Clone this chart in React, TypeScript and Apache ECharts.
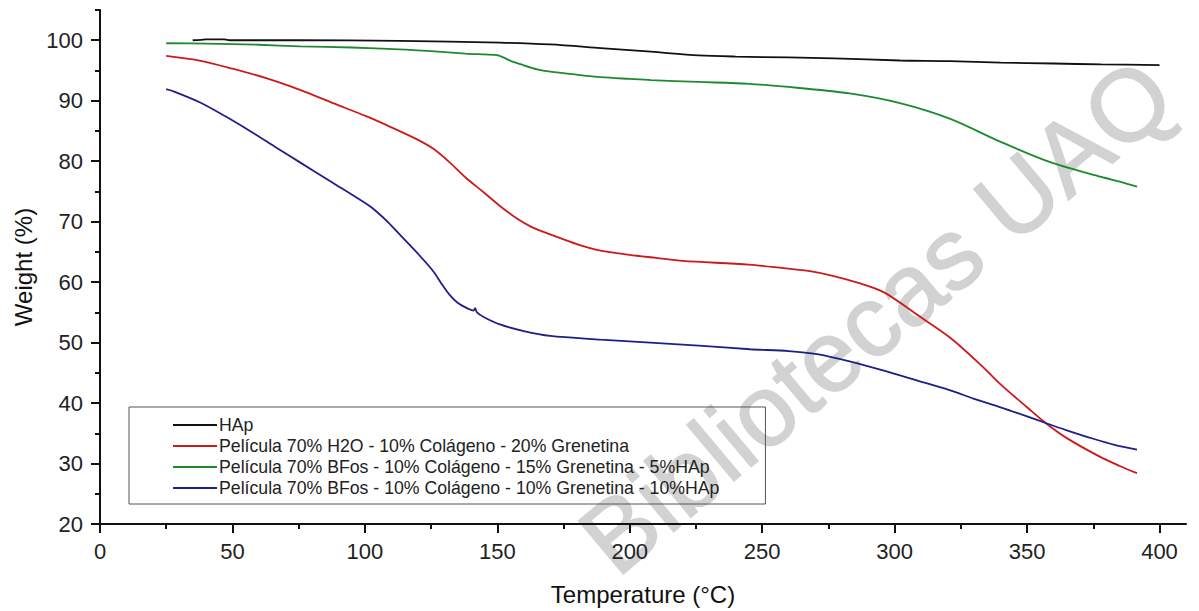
import React, { useEffect, useRef } from "react";
import * as echarts from "echarts";

const hapX = [35, 38, 40, 47, 49, 75.5, 113, 151, 170, 189, 208, 226, 240, 260, 277, 302, 321, 340, 360, 378, 400];
const hapY = [100.0, 100.05, 100.15, 100.15, 100.0, 100.0, 99.9, 99.6, 99.3, 98.7, 98.1, 97.5, 97.3, 97.15, 97.0, 96.65, 96.55, 96.3, 96.15, 96.0, 95.9];

const h2oX = [25, 38, 50, 63, 75.5, 88, 100.7, 110, 119.7, 126, 132, 138, 144.7, 151, 157.4, 163, 170, 180, 189, 200, 210, 220, 245, 258, 268, 277, 286, 296, 308.5, 321, 333.5, 340, 350, 357, 365, 377.6, 385, 391.5];
const h2oY = [97.4, 96.6, 95.3, 93.7, 91.8, 89.6, 87.4, 85.6, 83.6, 82.0, 79.8, 77.3, 74.9, 72.6, 70.5, 69.1, 67.9, 66.3, 65.2, 64.5, 64.0, 63.5, 62.9, 62.3, 61.8, 61.0, 59.9, 58.3, 54.6, 50.8, 45.9, 43.1, 39.3, 36.7, 34.2, 31.1, 29.6, 28.4];

const hap5X = [25, 40, 60, 75.5, 95, 113, 125, 138, 145, 150, 152, 155, 159, 165, 170, 180, 189, 200, 208, 226, 245, 264, 283, 302, 321, 340, 359, 378, 385, 391.5];
const hap5Y = [99.5, 99.45, 99.25, 99.0, 98.8, 98.5, 98.2, 97.8, 97.65, 97.55, 97.2, 96.6, 96.0, 95.2, 94.8, 94.3, 93.9, 93.6, 93.4, 93.1, 92.8, 92.1, 91.2, 89.6, 87.0, 83.2, 79.8, 77.4, 76.6, 75.8];

const hap10X = [25, 28, 37.8, 47, 56.6, 66, 75.5, 88, 100.7, 104.6, 109, 113.3, 120, 125.8, 129, 132, 135, 138.5, 141, 141.6, 142.3, 145, 151, 160, 170, 189, 207.7, 226, 245.4, 260, 270.7, 283, 295.6, 308, 321, 330, 340, 350, 357, 365, 375, 383, 391.5];
const hap10Y = [91.9, 91.5, 89.7, 87.5, 85.0, 82.4, 79.8, 76.4, 72.9, 71.6, 69.8, 67.8, 64.7, 61.8, 59.7, 57.9, 56.6, 55.7, 55.3, 55.7, 55.0, 54.2, 53.0, 51.9, 51.1, 50.5, 50.0, 49.5, 48.9, 48.6, 48.1, 46.9, 45.4, 43.8, 42.1, 40.7, 39.3, 37.8, 36.7, 35.5, 34.1, 33.1, 32.3];

const seriesNames = [
  "HAp",
  "Película 70% H2O - 10% Colágeno - 20% Grenetina",
  "Película 70% BFos - 10% Colágeno - 15% Grenetina - 5%HAp",
  "Película 70% BFos - 10% Colágeno - 10% Grenetina - 10%HAp",
];
const seriesColors = ["#111111", "#cc1a1a", "#1d8a2e", "#1f1f88"];

const xMajorTicks = [0, 50, 100, 150, 200, 250, 300, 350, 400];
const xMinorTicks = [25, 75, 125, 175, 225, 275, 325, 375];
const yMajorTicks = [20, 30, 40, 50, 60, 70, 80, 90, 100];
const yMinorTicks = [25, 35, 45, 55, 65, 75, 85, 95, 105];

const FONT = "'Liberation Sans', Arial, Helvetica, sans-serif";

function pairs(xs: number[], ys: number[]) {
  return xs.map((x, i) => [x, ys[i]]);
}

export default function App() {
  const ref = useRef<HTMLDivElement>(null);
  useEffect(() => {
    if (!ref.current) return;
    const chart = echarts.init(ref.current, null, { renderer: "svg" });
    const axisLine = { show: true, lineStyle: { color: "#111", width: 2 } };
    const xs = [hapX, h2oX, hap5X, hap10X];
    const ys = [hapY, h2oY, hap5Y, hap10Y];
    chart.setOption({
      animation: false,
      backgroundColor: "#ffffff",
      textStyle: { fontFamily: FONT },
      grid: { left: 100, right: 13, top: 10, bottom: 83, containLabel: false },
      graphic: [
        {
          type: "text",
          x: 876,
          y: 316,
          rotation: (40 * Math.PI) / 180,
          z: -10,
          silent: true,
          style: {
            text: "Bibliotecas UAQ",
            fontSize: 101,
            fontFamily: FONT,
            fill: "#d2d2d2",
            stroke: "#d2d2d2",
            lineWidth: 1.5,
            align: "center",
            verticalAlign: "middle",
          },
        },
      ],
      legend: {
        orient: "vertical",
        left: 129,
        top: 407,
        padding: [9, 46, 7, 44],
        itemGap: 3,
        itemWidth: 44,
        itemHeight: 2,
        icon: "rect",
        borderColor: "#555",
        borderWidth: 1,
        borderRadius: 0,
        backgroundColor: "transparent",
        textStyle: { fontSize: 17.7, color: "#222", fontFamily: FONT, padding: [0, 0, 0, -3] },
        data: seriesNames,
      },
      xAxis: [
        {
          type: "value",
          min: 0,
          max: 410,
          position: "bottom",
          name: "Temperature (°C)",
          nameLocation: "middle",
          nameGap: 58,
          nameTextStyle: { fontSize: 24, color: "#111", fontFamily: FONT },
          axisLine,
          splitLine: { show: false },
          axisTick: { show: true, inside: false, length: 9, customValues: xMajorTicks, lineStyle: { color: "#111", width: 2 } },
          axisLabel: { show: true, customValues: xMajorTicks, margin: 16, fontSize: 22, color: "#222", fontFamily: FONT },
        },
        {
          type: "value",
          min: 0,
          max: 410,
          position: "bottom",
          axisLine: { show: false },
          splitLine: { show: false },
          axisTick: { show: true, inside: false, length: 5, customValues: xMinorTicks, lineStyle: { color: "#111", width: 2 } },
          axisLabel: { show: false },
        },
      ],
      yAxis: [
        {
          type: "value",
          min: 20,
          max: 105,
          position: "left",
          name: "Weight (%)",
          nameLocation: "middle",
          nameGap: 60,
          nameTextStyle: { fontSize: 24, color: "#111", fontFamily: FONT },
          axisLine,
          splitLine: { show: false },
          axisTick: { show: true, inside: false, length: 9, customValues: yMajorTicks, lineStyle: { color: "#111", width: 2 } },
          axisLabel: { show: true, customValues: yMajorTicks, margin: 17, fontSize: 22, color: "#222", fontFamily: FONT },
        },
        {
          type: "value",
          min: 20,
          max: 105,
          position: "left",
          axisLine: { show: false },
          splitLine: { show: false },
          axisTick: { show: true, inside: false, length: 5, customValues: yMinorTicks, lineStyle: { color: "#111", width: 2 } },
          axisLabel: { show: false },
        },
      ],
      series: seriesNames.map((name, i) => ({
        name,
        type: "line",
        xAxisIndex: 0,
        yAxisIndex: 0,
        symbol: "none",
        smooth: 0.3,
        data: pairs(xs[i], ys[i]),
        lineStyle: { color: seriesColors[i], width: 1.8 },
        itemStyle: { color: seriesColors[i] },
        z: 3,
      })),
    });
    return () => chart.dispose();
  }, []);
  return (
    <div
      ref={ref}
      style={{ position: "fixed", left: 0, top: 0, width: 1199, height: 611, background: "#fff" }}
    />
  );
}
